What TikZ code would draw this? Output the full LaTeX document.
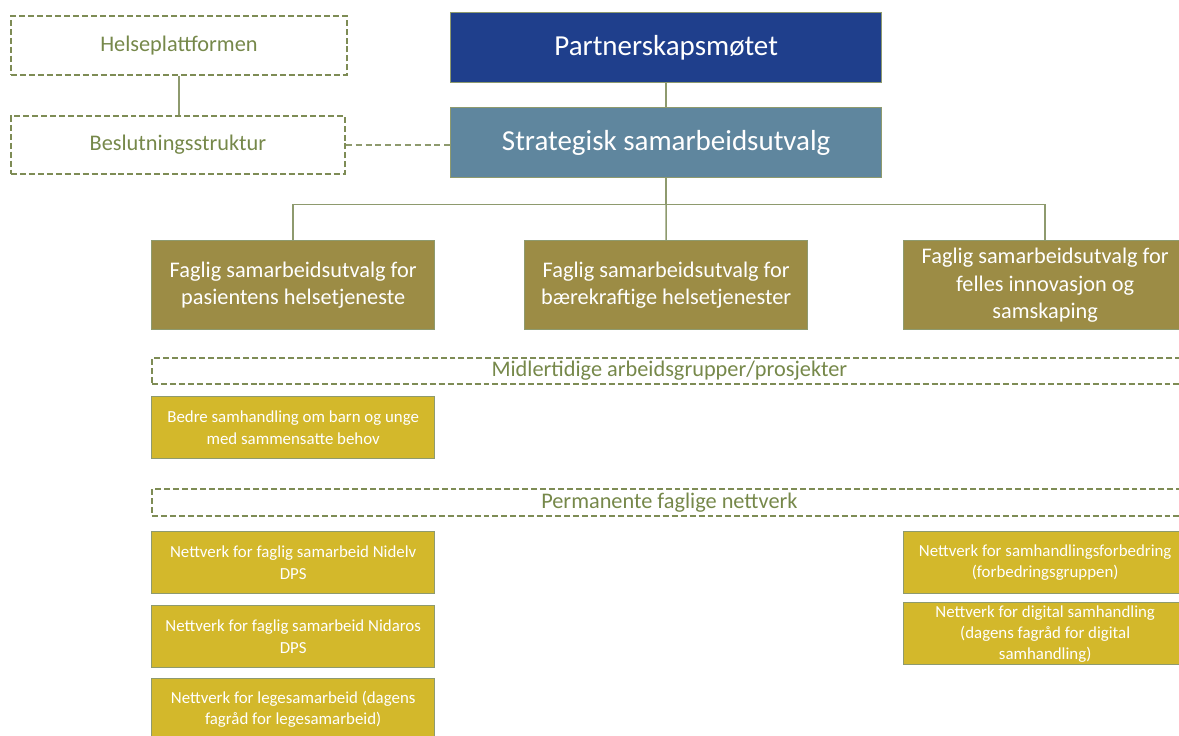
\documentclass[tikz,border=0pt]{standalone}
\usepackage{fontspec}
\setmainfont{Carlito}
\usetikzlibrary{positioning}

\definecolor{topblue}{HTML}{1F3F8C}
\definecolor{stratblue}{HTML}{5F869E}
\definecolor{fagolive}{HTML}{9C8C45}
\definecolor{netgold}{HTML}{D3B82B}
\definecolor{boxline}{HTML}{8E9A6E}
\definecolor{dashline}{HTML}{7E8C55}
\definecolor{olivetext}{HTML}{76884A}

\begin{document}
\begin{tikzpicture}[x=0.02cm, y=-0.02cm,
    box/.style={draw=boxline, line width=0.8pt, anchor=north west, inner sep=0pt,
                align=center, text=white},
    topbox/.style={box, fill=#1, minimum width=8.62cm, minimum height=1.4cm,
                   font=\fontsize{16.5}{19.7}\selectfont},
    fagbox/.style={box, fill=fagolive, minimum width=5.66cm, minimum height=1.78cm,
                   font=\fontsize{12.7}{15.4}\selectfont},
    netbox/.style={box, fill=netgold, minimum width=5.66cm, minimum height=1.24cm,
                   font=\fontsize{9.6}{12}\selectfont},
    dashbox/.style={draw=dashline, dash pattern=on 3.4pt off 1.7pt, line width=1.1pt,
                    anchor=north west, inner sep=0pt, text=olivetext,
                    font=\fontsize{12.7}{15}\selectfont},
    conn/.style={draw=boxline, line width=0.9pt}]
\useasboundingbox (0,0) rectangle (1179,736);

% left side
\node[dashbox, minimum width=6.72cm, minimum height=1.18cm] (helse) at (10,15) {Helseplattformen};
\node[dashbox, minimum width=6.68cm, minimum height=1.16cm] (beslut) at (10,115) {Beslutningsstruktur};
\draw[conn] (helse.south) -- (helse.south |- beslut.north);

% top of the tree
\node[topbox=topblue] (partner) at (450,12) {Partnerskapsmøtet};
\node[topbox=stratblue] (strat) at (450,107) {Strategisk samarbeidsutvalg};
\draw[conn] (partner.south) -- (strat.north);
\draw[conn, dash pattern=on 3.4pt off 2.2pt] (beslut.east) -- (beslut.east -| strat.west);

% faglige samarbeidsutvalg
\node[fagbox] (fag1) at (151,240) {Faglig samarbeidsutvalg for\\pasientens helsetjeneste};
\node[fagbox] (fag2) at (524,240) {Faglig samarbeidsutvalg for\\bærekraftige helsetjenester};
\node[fagbox] (fag3) at (903,240) {Faglig samarbeidsutvalg for\\felles innovasjon og\\samskaping};
\draw[conn] (strat.south) -- ++(0,26) coordinate (split);
\draw[conn] (split) -| (fag1.north);
\draw[conn] (split) -- (fag2.north);
\draw[conn] (split) -| (fag3.north);

% midlertidige grupper
\node[dashbox, minimum width=20.7cm, minimum height=0.52cm] (midl) at (151,357) {Midlertidige arbeidsgrupper/prosjekter};
\node[netbox] (barn) at (151,396) {Bedre samhandling om barn og unge\\med sammensatte behov};

% permanente nettverk
\node[dashbox, minimum width=20.7cm, minimum height=0.54cm] (perm) at (151,488) {Permanente faglige nettverk};
\node[netbox] (nidelv) at (151,531) {Nettverk for faglig samarbeid Nidelv\\DPS};
\node[netbox] (nidaros) at (151,605) {Nettverk for faglig samarbeid Nidaros\\DPS};
\node[netbox] (lege) at (151,678) {Nettverk for legesamarbeid (dagens\\fagråd for legesamarbeid)};
\node[netbox] (forbedr) at (903,531) {Nettverk for samhandlingsforbedring\\(forbedringsgruppen)};
\node[netbox] (digital) at (903,602) {Nettverk for digital samhandling\\(dagens fagråd for digital\\samhandling)};
\end{tikzpicture}
\end{document}
